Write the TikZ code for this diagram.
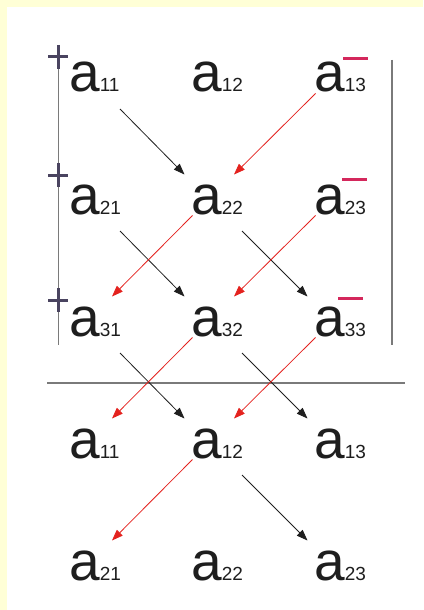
\documentclass[tikz,border=0pt]{standalone}
\usepackage{fontspec}
\setmainfont{Liberation Sans}
\usetikzlibrary{arrows.meta}
\definecolor{bgyellow}{HTML}{FFFFD6}
\definecolor{txt}{HTML}{1E1E1E}
\definecolor{plusc}{HTML}{4A4460}
\definecolor{minusc}{HTML}{D4285C}
\definecolor{redarr}{HTML}{E4221E}
\definecolor{barc}{HTML}{7A7A7A}
\newcommand\subs[1]{{\fontsize{19}{19}\selectfont #1}}
\tikzset{
  ent/.style={inner sep=0pt, anchor=base west, text=txt, font=\fontsize{55}{55}\selectfont},
  blk/.style={draw=black!88, line width=0.8pt, -{Triangle[length=11pt,width=8pt]}},
  rda/.style={draw=redarr, line width=0.8pt, -{Triangle[length=11pt,width=8pt]}},
  plusmark/.style={draw=plusc, line width=3pt},
  minusmark/.style={draw=minusc, line width=3pt},
  barline/.style={draw=barc, line width=1.8pt}
}
\newcommand\barrow[2]{\draw[blk] ([shift={(51pt,-17pt)}]#1.base west) -- ([shift={(-6.5pt,39.5pt)}]#2.base west);}
\newcommand\rarrow[2]{\draw[rda] ([shift={(1.5pt,-1.5pt)}]#1.base west) -- ([shift={(43pt,39.5pt)}]#2.base west);}
\begin{document}
\begin{tikzpicture}[x=1pt,y=1pt]
\useasboundingbox (0,0) rectangle (423,-610);
\fill[bgyellow] (0,0) rectangle (423,-610);
\fill[white] (7,-7) rectangle (423,-610);
% determinant bars and separator
\draw[barline] (58.5,-46) -- (58.5,-345);
\draw[barline] (392,-60) -- (392,-345);
\draw[barline] (47,-383) -- (405,-383);
% entries
\node[ent] (r1c1) at (69,-92) {a\subs{11}};
\node[ent] (r1c2) at (191,-92) {a\subs{12}};
\node[ent] (r1c3) at (314,-92) {a\subs{13}};
\node[ent] (r2c1) at (69,-214) {a\subs{21}};
\node[ent] (r2c2) at (191,-214) {a\subs{22}};
\node[ent] (r2c3) at (314,-214) {a\subs{23}};
\node[ent] (r3c1) at (69,-336) {a\subs{31}};
\node[ent] (r3c2) at (191,-336) {a\subs{32}};
\node[ent] (r3c3) at (314,-336) {a\subs{33}};
\node[ent] (r4c1) at (69,-458) {a\subs{11}};
\node[ent] (r4c2) at (191,-458) {a\subs{12}};
\node[ent] (r4c3) at (314,-458) {a\subs{13}};
\node[ent] (r5c1) at (69,-580) {a\subs{21}};
\node[ent] (r5c2) at (191,-580) {a\subs{22}};
\node[ent] (r5c3) at (314,-580) {a\subs{23}};
% plus signs
\foreach \yy in {57,175,300}{
  \draw[plusmark] (48,-\yy) -- (68,-\yy);
  \draw[plusmark] (58,-\yy+12) -- (58,-\yy-12);
}
% minus signs
\draw[minusmark] (343,-59) -- (368,-59);
\draw[minusmark] (342,-179) -- (367,-179);
\draw[minusmark] (338,-298) -- (363,-298);
% arrows
\barrow{r1c1}{r2c2}
\rarrow{r1c3}{r2c2}
\barrow{r2c1}{r3c2}
\barrow{r2c2}{r3c3}
\rarrow{r2c2}{r3c1}
\rarrow{r2c3}{r3c2}
\barrow{r3c1}{r4c2}
\barrow{r3c2}{r4c3}
\rarrow{r3c2}{r4c1}
\rarrow{r3c3}{r4c2}
\rarrow{r4c2}{r5c1}
\barrow{r4c2}{r5c3}
\end{tikzpicture}
\end{document}
